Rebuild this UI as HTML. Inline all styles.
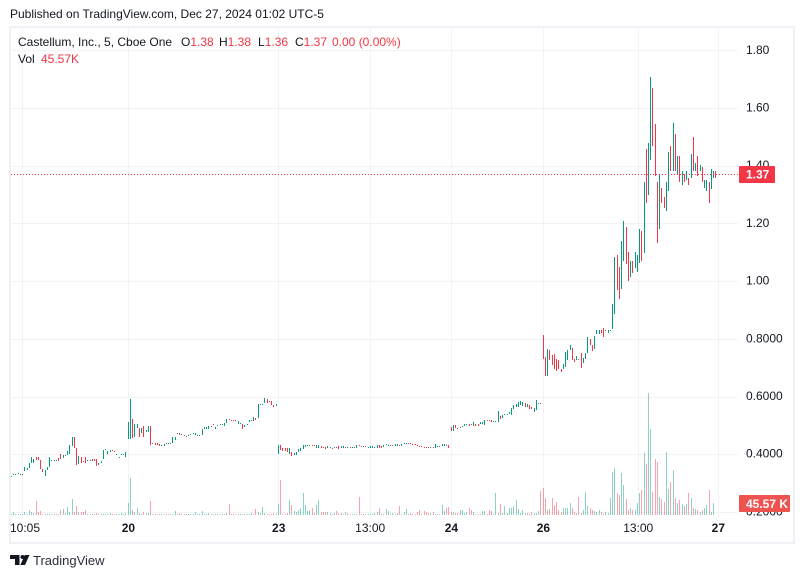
<!DOCTYPE html>
<html lang="en">
<head>
<meta charset="utf-8">
<title>Castellum, Inc. chart</title>
<style>
html,body{margin:0;padding:0;background:#fff;}
body{width:804px;height:578px;overflow:hidden;position:relative;font-family:"Liberation Sans",sans-serif;}
svg{position:absolute;left:0;top:0;}
text{font-family:"Liberation Sans",sans-serif;font-size:12px;fill:#131722;}
</style>
</head>
<body>
<svg id="chart" width="804" height="578" viewBox="0 0 804 578" xmlns="http://www.w3.org/2000/svg">
  <text x="10" y="18">Published on TradingView.com, Dec 27, 2024 01:02 UTC-5</text>
  <rect x="10" y="27" width="784" height="516" fill="none" stroke="#f0f1f6" stroke-width="2"/>
  <g id="grid"></g>
  <g id="volumes" shape-rendering="crispEdges"></g>
  <g id="bars" shape-rendering="crispEdges"></g>
  <g id="priceAxis"></g>
  <g id="timeAxis"></g>
  <g id="lastPrice"></g>
  <g>
    <text x="18" y="46">Castellum, Inc., 5, Cboe One</text>
    <text x="181" y="46">O<tspan style="fill:#f23645">1.38</tspan></text>
    <text x="219" y="46">H<tspan style="fill:#f23645">1.38</tspan></text>
    <text x="258" y="46">L<tspan style="fill:#f23645">1.36</tspan></text>
    <text x="295" y="46">C<tspan style="fill:#f23645">1.37</tspan></text>
    <text x="332" y="46" style="fill:#f23645">0.00 (0.00%)</text>
    <text x="18" y="63">Vol</text>
    <text x="41" y="63" style="fill:#f23645">45.57K</text>
  </g>
  <g>
    <path d="M10 555h9.500v10h-4.500v-6h-5z" fill="#131722"/>
    <circle cx="22.500" cy="557" r="2" fill="#131722"/>
    <path d="M29.500 555L25 565h-4.700l4.500-10z" fill="#131722"/>
    <text x="33" y="565" style="font-size:13px;fill:#2a2e39">TradingView</text>
  </g>
</svg>
<script>
const highs = [
.325,.331,.331,.334,.333,.333,.355,.352,.369,.391,
.385,.391,.391,.380,.350,.345,.354,.391,.380,.380,
.380,.387,.400,.397,.397,.412,.432,.460,.458,.420,
.394,.392,.378,.391,.380,.380,.385,.383,.384,.369,
.375,.415,.419,.412,.413,.414,.412,.401,.392,.400,
.400,.408,
.510,.592,.523,.504,.504,.492,.492,.498,.483,.498,
.498,.440,.439,.439,.437,.432,.435,.438,.440,.440,
.458,.460,.475,.472,.470,.467,.464,.467,.471,.472,
.473,.467,.467,.489,.496,.496,.498,.499,.503,.496,
.501,.504,.503,.508,.523,.521,.519,.519,.518,.516,
.508,.505,.501,.505,.517,.518,.530,.527,.575,.575,
.575,.595,.592,.585,.585,.570,.575,
.432,.432,.422,.422,.422,.422,.408,.403,.408,.417,
.420,.431,.432,.431,.431,.432,.431,.431,.431,.428,
.425,.424,.428,.425,.423,.425,.424,.428,.428,.427,
.425,.424,.424,.425,.425,.432,.431,.428,.428,.428,
.425,.428,.427,.425,.431,.431,.427,.432,.435,.432,
.432,.431,.435,.434,.432,.434,.439,.439,.438,.438,
.436,.436,.432,.430,.429,.424,.424,.424,.425,.425,
.435,.427,.429,.434,.434,.431,.432,
.495,.502,.502,.492,.494,.498,.504,.506,.505,.503,
.512,.506,.506,.512,.512,.520,.520,.518,.518,.515,
.515,.550,.533,.535,.540,.541,.545,.561,.571,.575,
.580,.583,.581,.579,.573,.570,.564,.560,.587,.579,
.579,
.813,.737,.764,.761,.745,.747,.729,.726,.697,.711,
.754,.761,.778,.768,.730,.740,.730,.751,.733,.751,
.806,.799,.778,.810,.831,.831,.831,.838,.830,.830,
.830,.921,1.085,1.092,1.050,1.140,1.210,1.189,1.102,1.071,
1.071,1.102,1.092,1.182,1.172,1.342,1.459,1.48,1.708,1.67,
1.546,1.342,1.37,1.321,1.29,1.342,1.449,1.47,1.549,1.511,
1.432,1.432,1.38,1.37,1.38,1.356,1.439,1.501,1.411,1.432,
1.401,1.394,1.352,1.352,1.342,1.39,1.38,1.38
];
const lows = [
.321,.328,.328,.331,.330,.330,.343,.345,.353,.369,
.369,.381,.380,.350,.339,.325,.346,.356,.377,.378,
.378,.377,.385,.388,.394,.397,.400,.429,.420,.364,
.367,.369,.376,.369,.376,.376,.377,.376,.360,.362,
.369,.385,.416,.400,.409,.412,.409,.398,.388,.397,
.398,.392,
.454,.454,.455,.458,.492,.461,.473,.461,.477,.477,
.431,.435,.431,.431,.429,.430,.429,.436,.437,.437,
.438,.450,.469,.465,.467,.464,.461,.464,.468,.469,
.467,.464,.464,.467,.489,.489,.487,.497,.501,.489,
.497,.502,.501,.499,.509,.519,.517,.517,.514,.506,
.505,.488,.496,.502,.512,.514,.514,.518,.526,.572,
.572,.577,.579,.581,.570,.562,.568,
.402,.414,.412,.412,.409,.402,.394,.397,.397,.408,
.412,.417,.425,.427,.428,.430,.429,.422,.423,.420,
.420,.419,.420,.423,.419,.420,.421,.419,.420,.421,
.421,.421,.422,.422,.423,.423,.429,.426,.426,.425,
.421,.420,.422,.422,.421,.422,.423,.425,.432,.430,
.431,.429,.430,.429,.430,.429,.434,.434,.436,.434,
.434,.432,.430,.428,.425,.422,.422,.422,.423,.423,
.422,.425,.427,.427,.428,.427,.420,
.481,.482,.492,.490,.491,.494,.498,.501,.499,.500,
.498,.498,.498,.506,.505,.501,.516,.516,.512,.513,
.513,.513,.521,.525,.535,.538,.539,.536,.558,.562,
.562,.570,.568,.565,.562,.558,.556,.548,.554,.576,
.576,
.731,.672,.672,.726,.710,.696,.689,.696,.686,.695,
.703,.726,.761,.725,.720,.726,.727,.700,.716,.731,
.751,.778,.757,.765,.815,.817,.820,.806,.827,.820,
.827,.834,.886,.970,.938,.973,1.071,1.060,1.001,1.015,
1.029,1.046,1.032,1.064,1.071,1.099,1.271,1.297,1.421,1.47,
1.366,1.131,1.18,1.27,1.252,1.242,1.314,1.38,1.38,1.38,
1.37,1.342,1.332,1.342,1.352,1.332,1.356,1.38,1.38,1.366,
1.38,1.342,1.321,1.311,1.27,1.318,1.359,1.359
];
const directions = (
"uuuuuuuuuu"+"udddduuuuu"+"udduuuuudd"+"uddduudddu"+"uuuuudduuu"+"uu"+
"uuduududuu"+"duddduuduu"+"uuududuuuu"+"uuuuuuuddu"+"uuuuuddddu"+"uduuuuuduu"+"uuddddu"+
"udddduduuu"+"uuuuudduud"+"dduududduu"+"duduuuddud"+"uuuuudduuu"+"duuuduuudd"+"ddddddddud"+"uuuuudd"+
"dudduuuudd"+"udduuudddu"+"uuduuuuuuu"+"uuududduuu"+"d"+
"dduddddddu"+"uuuddudduu"+"udduuudduu"+"uuudduuddu"+"duuududuud"+"ddudduudud"+"ududududud"+"uduuduud"
).split("");
const volumes = [
5,13,5,4,4,5,11,4,19,10,
6,53,11,15,5,4,4,4,4,4,
4,4,18,23,8,30,13,61,10,36,
13,10,13,18,4,4,4,5,6,4,
4,4,5,4,6,5,5,4,4,6,
4,6,
46,140,19,10,25,8,5,10,6,6,
53,4,4,4,5,4,4,4,4,4,
4,17,4,6,4,4,4,4,4,4,
10,4,4,15,5,4,6,4,4,4,
4,4,4,4,8,42,4,4,4,4,
4,4,5,4,4,8,4,23,13,6,
30,6,5,4,4,6,5,
41,132,5,5,8,56,37,14,11,19,
25,83,37,14,19,25,6,38,56,10,
13,13,10,6,4,6,15,8,6,4,
10,8,5,4,5,4,67,5,4,4,
4,5,4,8,11,25,5,4,23,15,
4,6,5,8,33,5,13,23,5,8,
4,4,10,18,5,14,10,8,8,11,
5,4,5,38,15,25,30,
13,13,6,6,18,18,6,11,25,18,
10,4,5,4,15,15,4,18,15,
4,83,8,42,6,36,8,26,26,33,
57,23,6,19,6,6,4,13,6,8,
14,
91,102,66,18,22,64,38,51,18,10,
25,25,25,44,25,10,6,70,6,18,
86,33,25,20,15,13,19,13,4,10,
6,64,163,178,83,76,159,114,61,20,
28,18,20,44,83,95,235,193,464,326,
86,212,203,70,61,51,239,97,124,173,
64,44,56,43,36,41,83,64,28,23,
18,13,20,25,38,95,13,45.57
];
const priceTicks = [1.8,1.6,1.4,1.2,1.0,0.8,0.6,0.4,0.2];
const priceTickLabels = ["1.80","1.60","1.40","1.20","1.00","0.8000","0.6000","0.4000","0.2000"];
const timeTickBars = [5,52,119,160,196,237,279.5,315];
const timeTickLabels = ["10:05","20","23","13:00","24","26","13:00","27"];
const lastClose = 1.37;
const lastCloseLabel = "1.37";
const lastVolumeLabel = "45.57 K";

const NS = "http://www.w3.org/2000/svg";
const UP = "#089981", DOWN = "#f23645";
function xOf(i){ return 11 + i * (704.3 / 314); }
function yOf(p){ return 454.2 - (p - 0.4) * 288.5; }
function volH(v){ return v * 122 / 464; }
function mk(tag, parent, attrs){
  const el = document.createElementNS(NS, tag);
  for (const k in attrs) el.setAttribute(k, attrs[k]);
  parent.appendChild(el);
  return el;
}
const gridG = document.getElementById("grid");
priceTicks.forEach(function(p){
  const line = mk("rect", gridG, {x:11, y:Math.round(yOf(p)), width:727, height:1, fill:"#f2f3f6"});
  
  
});
timeTickBars.forEach(function(b){
  const line = mk("rect", gridG, {x:Math.round(xOf(b)), y:28, width:1, height:490, fill:"#f2f3f6"});
  
  
});
const volG = document.getElementById("volumes");
volumes.forEach(function(v, i){
  const h = Math.max(1, Math.round(volH(v)));
  const r = mk("rect", volG, {x:Math.round(xOf(i)), y:515 - h, width:1, height:h,
    fill: directions[i] === "u" ? UP : DOWN, "fill-opacity":0.45});
  
  
});
const barG = document.getElementById("bars");
highs.forEach(function(hi, i){
  const top = Math.round(yOf(hi));
  const h = Math.max(1, Math.round(yOf(lows[i])) - top);
  const r = mk("rect", barG, {x:Math.round(xOf(i)), y:top, width:1, height:h,
    fill: directions[i] === "u" ? UP : DOWN});
  
  
});
const paG = document.getElementById("priceAxis");
priceTicks.forEach(function(p, i){
  const t = mk("text", paG, {x:746, y:yOf(p) + 3.5});
  t.textContent = priceTickLabels[i];
  
  
});
const taG = document.getElementById("timeAxis");
timeTickBars.forEach(function(b, i){
  const isDay = timeTickLabels[i].length === 2;
  const t = mk("text", taG, {x:Math.max(25, xOf(b) + (isDay ? 0.8 : 0.3)), y:532, "text-anchor":"middle"});
  if (isDay) t.setAttribute("font-weight", "700");
  t.textContent = timeTickLabels[i];
  
  
});
const lpG = document.getElementById("lastPrice");
const lastY = Math.round(yOf(lastClose));
const dotted = mk("line", lpG, {x1:11, x2:738, y1:lastY + 0.5, y2:lastY + 0.5, stroke:DOWN, "stroke-width":1, "stroke-dasharray":"1 2"});


const priceBox = mk("rect", lpG, {x:739, y:lastY - 8, width:36, height:17, rx:1, fill:DOWN});


const priceTxt = mk("text", lpG, {x:746, y:lastY + 4.5, style:"fill:#fff;font-weight:700"});
priceTxt.textContent = lastCloseLabel;


const volBox = mk("rect", lpG, {x:739, y:495, width:51, height:17, rx:1, fill:"#ef5350"});


const volTxt = mk("text", lpG, {x:746, y:508, style:"fill:#fff;font-weight:700"});
volTxt.textContent = lastVolumeLabel;


</script>
</body>
</html>
